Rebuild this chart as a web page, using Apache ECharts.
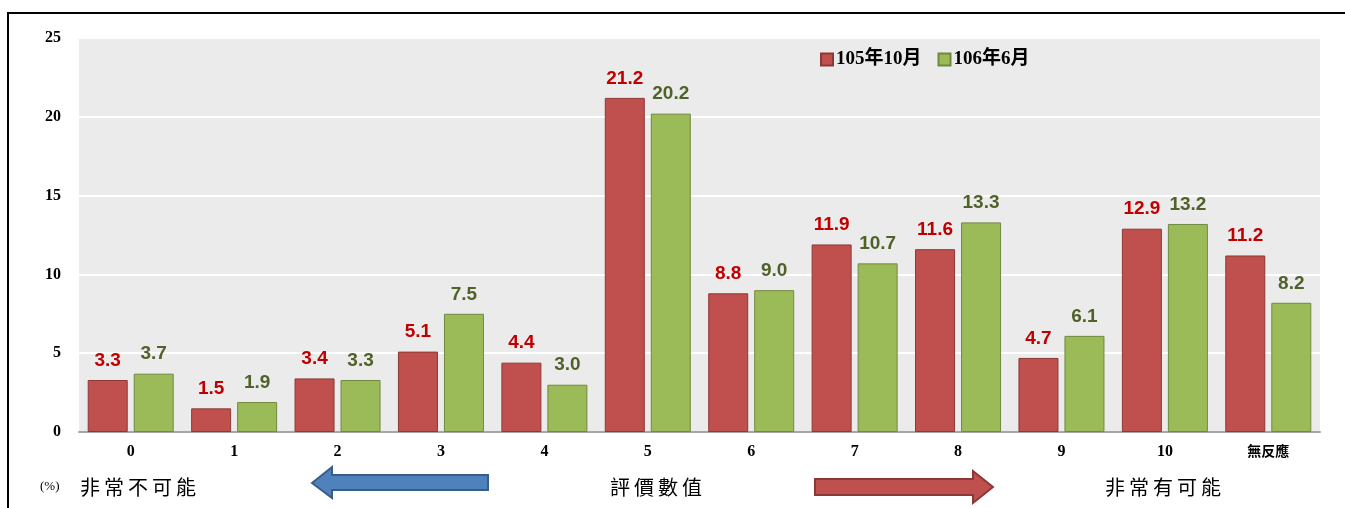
<!DOCTYPE html>
<html><head><meta charset="utf-8">
<script src="https://cdn.jsdelivr.net/npm/echarts@6/dist/echarts.min.js"></script>
<style>html,body{margin:0;padding:0;background:#fff;}#c{width:1345px;height:508px;}</style>
</head><body><div id="c"></div>
<script>
var categories = ['0','1','2','3','4','5','6','7','8','9','10','無反應'];
var seriesNames = ['105年10月','106年6月'];
var values105 = [3.3,1.5,3.4,5.1,4.4,21.2,8.8,11.9,11.6,4.7,12.9,11.2];
var values106 = [3.7,1.9,3.3,7.5,3.0,20.2,9.0,10.7,13.3,6.1,13.2,8.2];
var yTicks = [0,5,10,15,20,25];

var chart = echarts.init(document.getElementById('c'));
var serif = '"Liberation Serif","Times New Roman","Noto Sans CJK TC",serif';
var cjk = '"Noto Sans CJK TC",sans-serif';
var labelFont = 'Arial,"Liberation Sans",sans-serif';
chart.setOption({
  animation: false,
  backgroundColor: '#fff',
  grid: {left: 79, right: 25, top: 38, bottom: 76, show: true, backgroundColor: '#ebebeb', borderWidth: 0},
  legend: {
    left: 815, top: 45, itemWidth: 12, itemHeight: 12, itemGap: 16,
    icon: 'rect',
    textStyle: {fontFamily: serif, fontWeight: 'bold', fontSize: 19, color: '#000', padding: [0,0,0,-2]},
    data: seriesNames
  },
  xAxis: {
    type: 'category', data: categories,
    axisLine: {lineStyle: {color: '#a6a6a6', width: 2}},
    axisTick: {show: false},
    axisLabel: {
      margin: 12, color: '#000', fontFamily: serif, fontWeight: 'bold', fontSize: 16,
      formatter: function(v){ return v === '無反應' ? '{c|' + v + '}' : v; },
      rich: {c: {fontFamily: cjk, fontWeight: 'bold', fontSize: 14, color: '#000'}}
    }
  },
  yAxis: {
    type: 'value', min: yTicks[0], max: yTicks[yTicks.length-1], interval: 5,
    axisLine: {show: false}, axisTick: {show: false},
    axisLabel: {margin: 18, color: '#000', fontFamily: serif, fontWeight: 'bold', fontSize: 16},
    splitLine: {lineStyle: {color: '#ffffff', width: 2}}
  },
  series: [
    {
      name: seriesNames[0], type: 'bar', data: values105, barWidth: 40, barGap: '15%',
      itemStyle: {color: '#c0504d', borderColor: '#8c3836', borderWidth: 1},
      label: {show: true, position: 'top', distance: 10, color: '#c00000', fontFamily: labelFont, fontWeight: 'bold', fontSize: 19,
        formatter: function(p){ return p.value.toFixed(1); }}
    },
    {
      name: seriesNames[1], type: 'bar', data: values106, barWidth: 40,
      itemStyle: {color: '#9bbb59', borderColor: '#71893f', borderWidth: 1},
      label: {show: true, position: 'top', distance: 10, color: '#4f6228', fontFamily: labelFont, fontWeight: 'bold', fontSize: 19,
        formatter: function(p){ return p.value.toFixed(1); }}
    }
  ],
  graphic: [
    {type: 'rect', shape: {x: 8, y: 13, width: 1400, height: 600}, style: {fill: 'none', stroke: '#000', lineWidth: 2}, silent: true},
    {type: 'text', x: 40, y: 487, style: {text: '(%)', fontFamily: serif, fontSize: 13, fill: '#000', verticalAlign: 'middle'}},
    {type: 'text', x: 80, y: 487, style: {text: '非\u2009常\u2009不\u2009可\u2009能', fontFamily: cjk, fontSize: 20, fill: '#000', verticalAlign: 'middle'}},
    {type: 'text', x: 610, y: 487, style: {text: '評\u2009價\u2009數\u2009值', fontFamily: cjk, fontSize: 20, fill: '#000', verticalAlign: 'middle'}},
    {type: 'text', x: 1105, y: 487, style: {text: '非\u2009常\u2009有\u2009可\u2009能', fontFamily: cjk, fontSize: 20, fill: '#000', verticalAlign: 'middle'}},
    {type: 'polygon', shape: {points: [[312,483],[332,467],[332,475],[488,475],[488,490],[332,490],[332,498]]},
      style: {fill: '#4f81bd', stroke: '#385d8a', lineWidth: 2}},
    {type: 'polygon', shape: {points: [[815,479],[973,479],[973,471],[993,487],[973,503],[973,495],[815,495]]},
      style: {fill: '#c0504d', stroke: '#8c3836', lineWidth: 2}}
  ]
});
</script></body></html>
